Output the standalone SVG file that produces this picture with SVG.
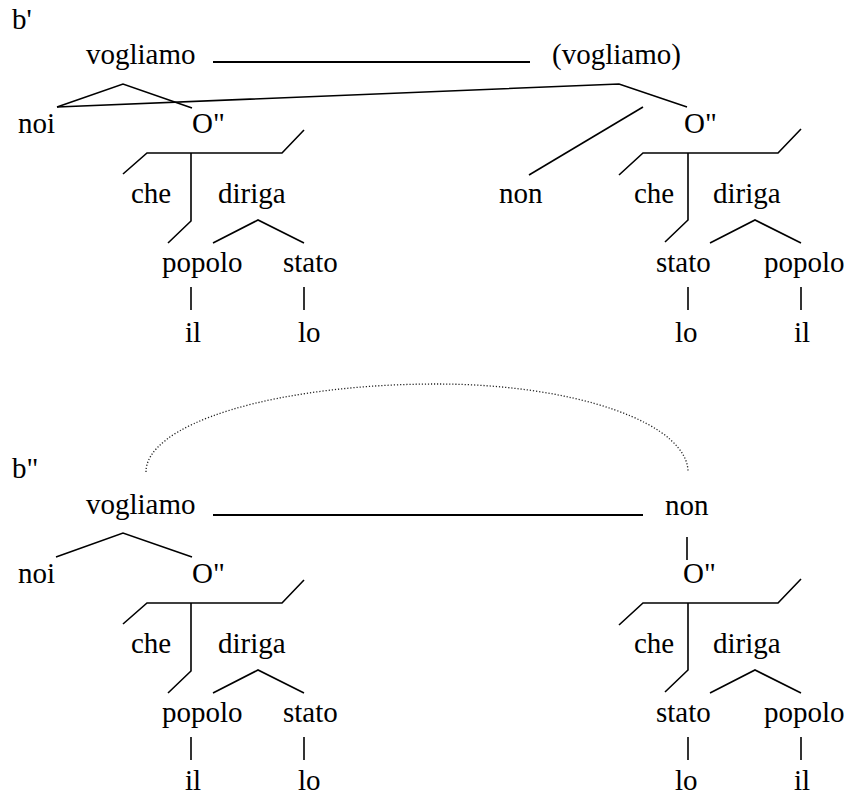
<svg xmlns="http://www.w3.org/2000/svg" width="850" height="795" viewBox="0 0 850 795">
<style>
text{font-family:'Liberation Serif','Tinos','Times New Roman','Times','Nimbus Roman','DejaVu Serif',serif;font-size:29px;fill:#000}
.e{fill:none;stroke:#000;stroke-width:1.6;stroke-linejoin:miter}
.h{fill:none;stroke:#000;stroke-width:2}
.d{fill:none;stroke:#222;stroke-width:1.3;stroke-dasharray:1.2 1.9}
</style>
<rect width="850" height="795" fill="#fff"/>
<g id="connectors">
<line class="h" x1="213" y1="62" x2="530" y2="62"/>
<polyline class="e" points="57,107 123,84 192,108"/>
<polyline class="e" points="57,107 619,84 687,107"/>
<line class="e" x1="643" y1="107" x2="529" y2="175"/>
<polyline class="e" points="123,174 147,153 282,153 304,130"/>
<polyline class="e" points="191,153 191,221 168,243"/>
<polyline class="e" points="213,243 258,220 304,243"/>
<line class="e" x1="191" y1="287" x2="191" y2="310"/>
<line class="e" x1="304" y1="287" x2="304" y2="310"/>
<polyline class="e" points="619,175 643,153 778,153 801,129"/>
<polyline class="e" points="688,153 688,220 665,242"/>
<polyline class="e" points="710,243 755,220 801,243"/>
<line class="e" x1="688" y1="287" x2="688" y2="310"/>
<line class="e" x1="801" y1="287" x2="801" y2="310"/>
<path class="d" d="M146,472 A291,88 0 0 1 437,384 A251,88 0 0 1 688,472"/>
<line class="h" x1="213" y1="515" x2="643" y2="515"/>
<polyline class="e" points="56,557 123,533 192,557"/>
<line class="e" x1="687" y1="537" x2="687" y2="560"/>
<polyline class="e" points="123,624 147,603 282,603 304,580"/>
<polyline class="e" points="191,603 191,671 168,693"/>
<polyline class="e" points="213,693 258,670 304,693"/>
<line class="e" x1="191" y1="737" x2="191" y2="760"/>
<line class="e" x1="304" y1="737" x2="304" y2="760"/>
<polyline class="e" points="619,625 643,603 778,603 801,579"/>
<polyline class="e" points="688,603 688,670 665,692"/>
<polyline class="e" points="710,693 755,670 801,693"/>
<line class="e" x1="688" y1="737" x2="688" y2="760"/>
<line class="e" x1="801" y1="737" x2="801" y2="760"/>
</g>
<g font-family="Liberation Serif, Tinos, Times New Roman, serif">
<g id="label-b1"><text x="12" y="29">b'</text></g>
<g id="u-vogliamo"><text x="86" y="64">vogliamo</text></g>
<g id="u-vogliamo2"><text x="552" y="64">(vogliamo)</text></g>
<g id="u-noi"><text x="18" y="133">noi</text></g>
<g id="u-O1"><text x="192" y="133">O"</text></g>
<g id="u-che1"><text x="131" y="203">che</text></g>
<g id="u-diriga1"><text x="218" y="203">diriga</text></g>
<g id="u-popolo1"><text x="162" y="272">popolo</text></g>
<g id="u-stato1"><text x="283" y="272">stato</text></g>
<g id="u-il1"><text x="185" y="342">il</text></g>
<g id="u-lo1"><text x="298" y="342">lo</text></g>
<g id="u-non"><text x="499" y="203">non</text></g>
<g id="u-O2"><text x="684" y="133">O"</text></g>
<g id="u-che2"><text x="634" y="203">che</text></g>
<g id="u-diriga2"><text x="713" y="203">diriga</text></g>
<g id="u-stato2"><text x="656" y="272">stato</text></g>
<g id="u-popolo2"><text x="764" y="272">popolo</text></g>
<g id="u-lo2"><text x="675" y="342">lo</text></g>
<g id="u-il2"><text x="794" y="342">il</text></g>
<g id="label-b2"><text x="12" y="478">b"</text></g>
<g id="l-vogliamo"><text x="86" y="514">vogliamo</text></g>
<g id="l-non"><text x="665" y="515">non</text></g>
<g id="l-noi"><text x="18" y="583">noi</text></g>
<g id="l-O1"><text x="192" y="583">O"</text></g>
<g id="l-che1"><text x="131" y="653">che</text></g>
<g id="l-diriga1"><text x="218" y="653">diriga</text></g>
<g id="l-popolo1"><text x="162" y="722">popolo</text></g>
<g id="l-stato1"><text x="283" y="722">stato</text></g>
<g id="l-il1"><text x="185" y="790">il</text></g>
<g id="l-lo1"><text x="298" y="790">lo</text></g>
<g id="l-O2"><text x="683" y="583">O"</text></g>
<g id="l-che2"><text x="634" y="653">che</text></g>
<g id="l-diriga2"><text x="713" y="653">diriga</text></g>
<g id="l-stato2"><text x="656" y="722">stato</text></g>
<g id="l-popolo2"><text x="764" y="722">popolo</text></g>
<g id="l-lo2"><text x="675" y="790">lo</text></g>
<g id="l-il2"><text x="794" y="790">il</text></g>
</g>
</svg>
